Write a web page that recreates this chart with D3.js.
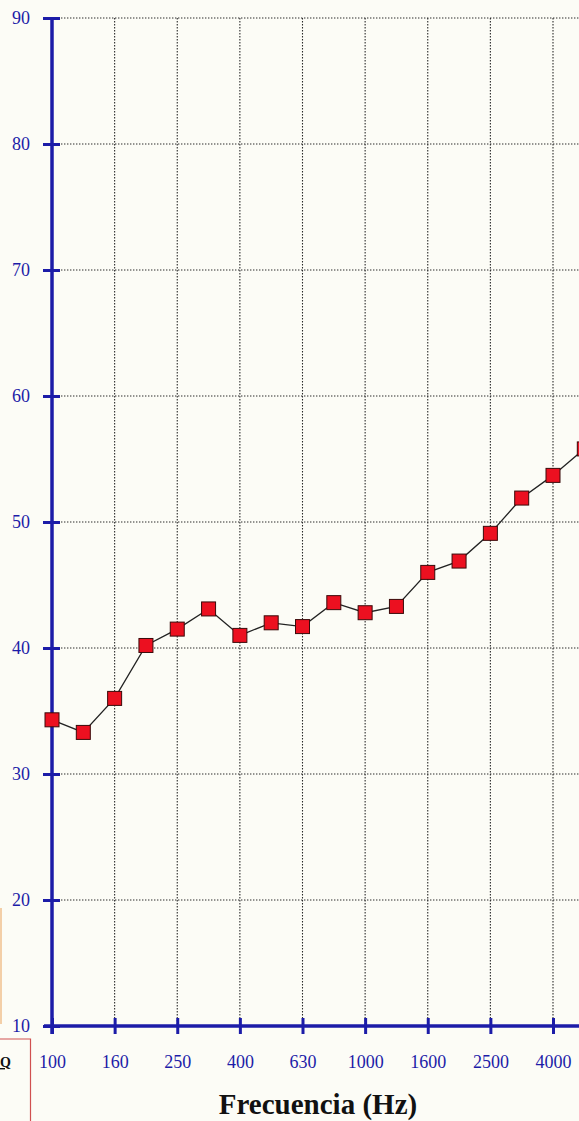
<!DOCTYPE html>
<html>
<head>
<meta charset="utf-8">
<script src="https://cdn.jsdelivr.net/npm/d3@7"></script>
<style>
  html, body { margin: 0; padding: 0; background: #fcfcf6; }
  svg { display: block; }
</style>
</head>
<body>
<svg id="chart" width="579" height="1121"></svg>
<script>
// Third-octave band centre frequencies (Hz)
const frequencies = [100, 125, 160, 200, 250, 315, 400, 500, 630, 800, 1000, 1250, 1600, 2000, 2500, 3150, 4000, 5000];
// Measured values (dB)
const values = [34.3, 33.3, 36.0, 40.2, 41.5, 43.1, 41.0, 42.0, 41.7, 43.6, 42.8, 43.3, 46.0, 46.9, 49.1, 51.9, 53.7, 55.8];
// Labelled x ticks
const xTickLabels = [100, 160, 250, 400, 630, 1000, 1600, 2500, 4000];
// y ticks
const yTicks = [10, 20, 30, 40, 50, 60, 70, 80, 90];
const xTitle = "Frecuencia (Hz)";

const svg = d3.select("#chart");
const blue = "#1c1ca8";

const idx = f => frequencies.indexOf(f);
const x = d3.scaleLinear().domain([0, 16]).range([52, 553]);
const y = d3.scaleLinear().domain([10, 90]).range([1026, 18]);

// grid
const grid = svg.append("g").attr("stroke", "#2a2a2a").attr("stroke-width", 1.1)
  .attr("stroke-dasharray", "1.4,1.6").attr("fill", "none");
grid.selectAll("line.h").data(yTicks.slice(1)).join("line")
  .attr("x1", x(0)).attr("x2", 579)
  .attr("y1", d => y(d)).attr("y2", d => y(d));
grid.selectAll("line.v").data(xTickLabels.slice(1)).join("line")
  .attr("x1", d => x(idx(d))).attr("x2", d => x(idx(d)))
  .attr("y1", y(90)).attr("y2", y(10));

// decorative remnants at left edge
svg.append("line").attr("x1", 1).attr("x2", 1).attr("y1", 908).attr("y2", 1024)
  .attr("stroke", "#f3cfa8").attr("stroke-width", 2);
svg.append("path").attr("d", "M-2,1039 H30.5 V1121")
  .attr("fill", "none").attr("stroke", "#d05050").attr("stroke-width", 1.2);
svg.append("text").attr("x", 0).attr("y", 1067)
  .attr("font-family", "Liberation Serif").attr("font-weight", "bold").attr("font-size", 14)
  .attr("fill", "#111").attr("text-decoration", "underline").text("Q");

// y axis
const yAxis = svg.append("g").attr("transform", `translate(${x(0)},0)`)
  .call(d3.axisLeft(y).tickValues(yTicks).tickSize(9).tickPadding(13).tickFormat(d3.format("d")));
yAxis.select(".domain").remove();
yAxis.selectAll(".tick line").attr("x1", -9).attr("x2", 8).attr("stroke", blue).attr("stroke-width", 3);
yAxis.selectAll(".tick text").attr("fill", blue).attr("font-family", "Liberation Serif").attr("font-size", 18);
yAxis.append("line").attr("x1", 0).attr("x2", 0).attr("y1", y(90)).attr("y2", y(10) + 8)
  .attr("stroke", blue).attr("stroke-width", 3.5);

// x axis
const xAxis = svg.append("g").attr("transform", `translate(0,${y(10)})`)
  .call(d3.axisBottom(x).tickValues(xTickLabels.map(idx)).tickSize(8).tickPadding(21)
    .tickFormat(i => frequencies[i]));
xAxis.select(".domain").remove();
xAxis.selectAll(".tick line").attr("y1", -8).attr("y2", 8).attr("stroke", blue).attr("stroke-width", 3);
xAxis.selectAll(".tick text").attr("fill", blue).attr("font-family", "Liberation Serif").attr("font-size", 18);
xAxis.append("line").attr("x1", x(0) - 8).attr("x2", 579).attr("y1", 0).attr("y2", 0)
  .attr("stroke", blue).attr("stroke-width", 3.5);

// data line
const pts = frequencies.map((f, i) => ({ i, v: values[i] }));
svg.append("path").datum(pts)
  .attr("d", d3.line().x(d => x(d.i)).y(d => y(d.v)))
  .attr("fill", "none").attr("stroke", "#222").attr("stroke-width", 1.3);

// markers
const s = 14;
svg.append("g").selectAll("rect").data(pts).join("rect")
  .attr("x", d => x(d.i) - s / 2).attr("y", d => y(d.v) - s / 2)
  .attr("width", s).attr("height", s)
  .attr("fill", "#ec1020").attr("stroke", "#3a0a0a").attr("stroke-width", 1);

// title
svg.append("text").attr("x", 318).attr("y", 1114).attr("text-anchor", "middle")
  .attr("font-family", "Liberation Serif").attr("font-weight", "bold").attr("font-size", 29)
  .attr("fill", "#111").text(xTitle);
</script>
</body>
</html>
